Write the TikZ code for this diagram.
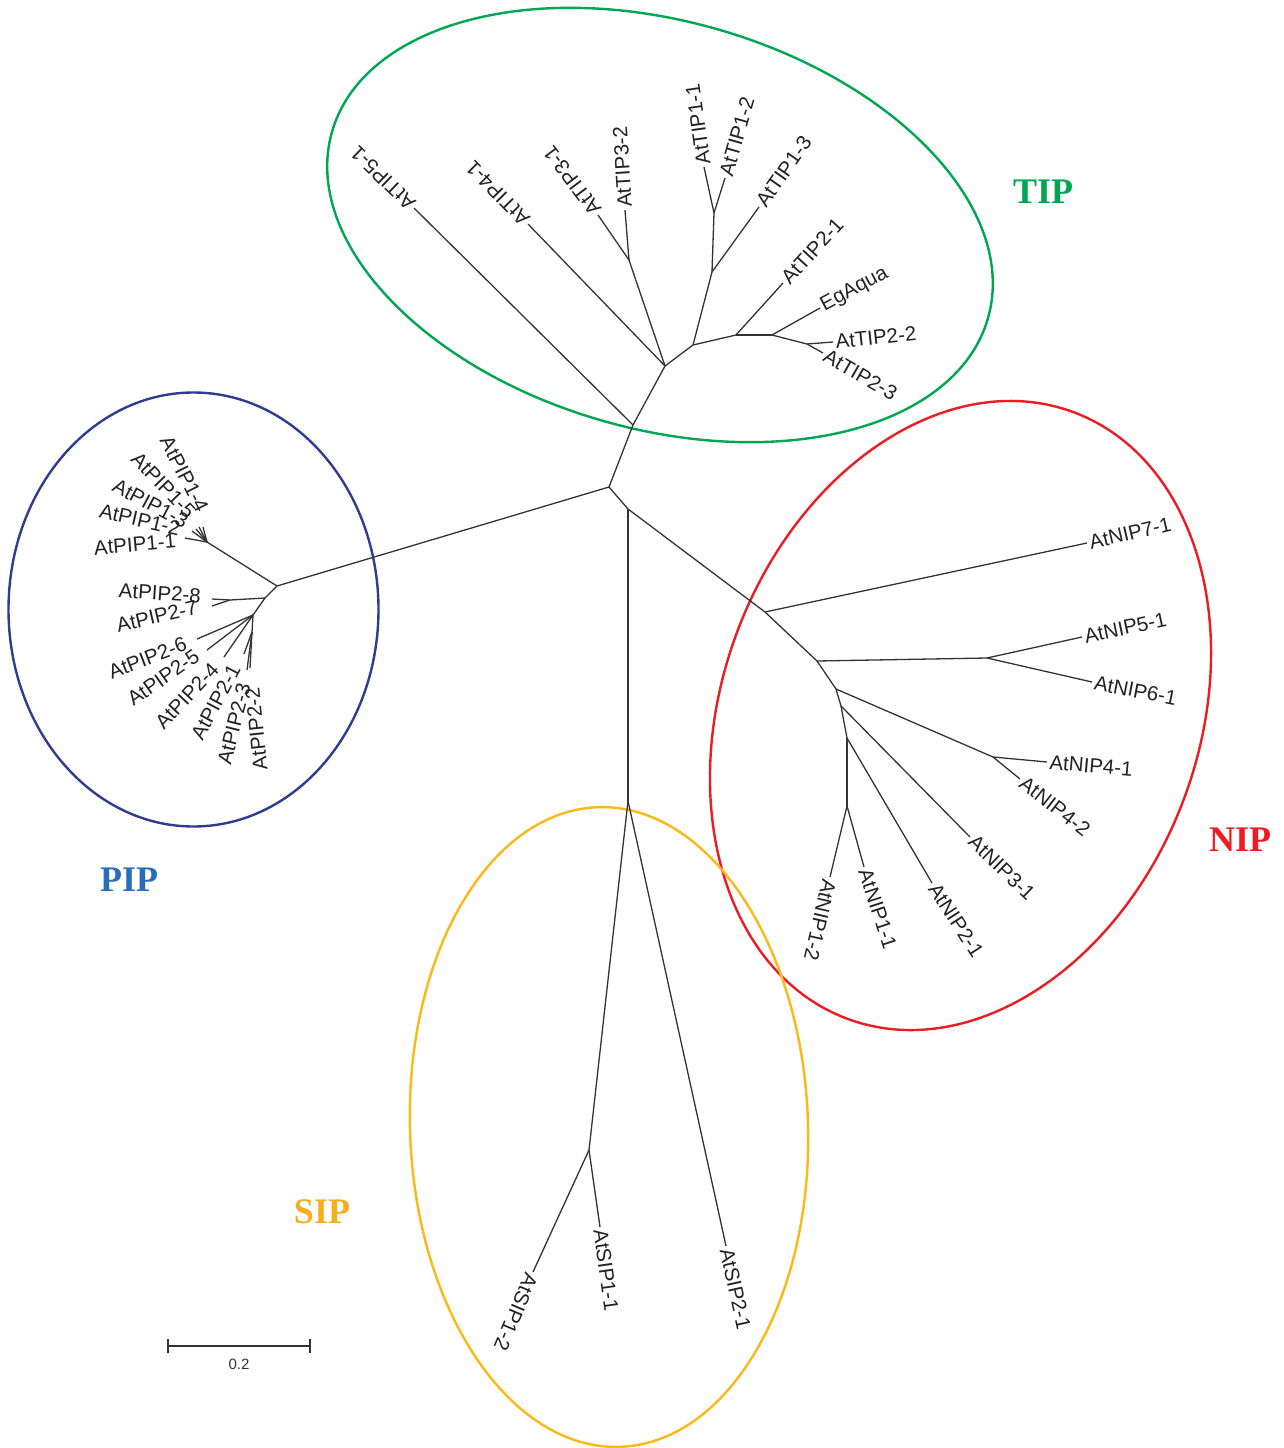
\documentclass[tikz,border=0pt]{standalone}
\usepackage{fontspec}
\setmainfont{Liberation Sans}
\newfontfamily\labfont{Liberation Sans}
\newfontfamily\grpfont{Liberation Serif}
\definecolor{treec}{HTML}{333333}
\definecolor{labc}{HTML}{222222}
\definecolor{tipgreen}{HTML}{00A651}
\definecolor{pipblue}{HTML}{2E3D8F}
\definecolor{piptext}{HTML}{2A6EBB}
\definecolor{nipred}{HTML}{ED1C24}
\definecolor{siporange}{HTML}{FBB817}
\definecolor{siptext}{HTML}{F7AE1E}
\tikzset{
  br/.style={draw=treec, line width=1.3pt},
  grpell/.style={line width=2.4pt},
  lab/.style={font=\labfont\fontsize{20.5}{24}\selectfont, text=labc, inner sep=2.5pt, anchor=west},
  flab/.style={font=\labfont\fontsize{20.5}{24}\selectfont, text=labc, inner sep=0pt, anchor=east},
  grplab/.style={font=\grpfont\bfseries\fontsize{36}{40}\selectfont, inner sep=0pt}
}
\begin{document}
\begin{tikzpicture}[x=1pt,y=-1pt]
\useasboundingbox (0,0) rectangle (1284,1448);
\fill[white] (0,0) rectangle (1284,1448);

% ---------- group ellipses ----------
\draw[grpell, tipgreen, rotate around={-15.8:(660,225)}] (660,225) ellipse [x radius=341pt, y radius=204pt];
\draw[grpell, pipblue] (193.5,609.5) ellipse [x radius=185pt, y radius=217pt];
\draw[grpell, nipred, rotate around={-20.5:(960.5,715.5)}] (960.5,715.5) ellipse [x radius=238.5pt, y radius=323.7pt];
\draw[grpell, siporange, rotate around={2:(609,1127)}] (609,1127) ellipse [x radius=199pt, y radius=320pt];

% ---------- internal nodes ----------
\coordinate (R) at (609,487);
% TIP
\coordinate (T0) at (633,425);
\coordinate (T1) at (665,366);
\coordinate (T3n) at (629,260);
\coordinate (T2) at (693,345);
\coordinate (T1n) at (712,272);
\coordinate (T11n) at (714,213);
\coordinate (T3) at (736,335);
\coordinate (T4) at (772,335);
\coordinate (T5) at (807,344);
% PIP
\coordinate (P0) at (277,586);
\coordinate (P1n) at (207,542);
\coordinate (P2a) at (265,598);
\coordinate (P2b) at (230,600);
\coordinate (P2c) at (253,615);
\coordinate (P2e) at (252,632);
% NIP / SIP
\coordinate (N0) at (628,509);
\coordinate (N1) at (765,612);
\coordinate (N2) at (817,661);
\coordinate (N56) at (987,658);
\coordinate (N3) at (836,689);
\coordinate (N4b) at (993,757);
\coordinate (N4) at (841,706);
\coordinate (N5) at (847,738);
\coordinate (N6) at (847,806);
\coordinate (S0) at (628,801);
\coordinate (S1) at (589,1150);

% ---------- tips ----------
\coordinate (tT51) at (414,208);
\coordinate (tT41) at (528,224);
\coordinate (tT31) at (598,215);
\coordinate (tT32) at (625,210);
\coordinate (tT11) at (704,167);
\coordinate (tT12) at (725,178);
\coordinate (tT13) at (759,207);
\coordinate (tT21) at (783,283);
\coordinate (tEg) at (820,308);
\coordinate (tT22) at (833,342);
\coordinate (tT23) at (823,353);

\coordinate (tP14) at (203,527);
\coordinate (tP15) at (199,527);
\coordinate (tP13) at (196,529);
\coordinate (tP12) at (192,531);
\coordinate (tP11) at (185,538);
\coordinate (tP28) at (212,599);
\coordinate (tP27) at (212,606);
\coordinate (tP26) at (197,639);
\coordinate (tP25) at (207,650);
\coordinate (tP24) at (224,657);
\coordinate (tP21) at (244,654);
\coordinate (tP23) at (247,670);
\coordinate (tP22) at (250,668);

\coordinate (tN71) at (1087,543);
\coordinate (tN51) at (1082,637);
\coordinate (tN61) at (1092,682);
\coordinate (tN41) at (1047,762);
\coordinate (tN42) at (1020,779);
\coordinate (tN31) at (970,837);
\coordinate (tN21) at (932,883);
\coordinate (tN11) at (864,867);
\coordinate (tN12) at (830,877);

\coordinate (tS12) at (533,1272);
\coordinate (tS11) at (600,1227);
\coordinate (tS21) at (726,1246);

% ---------- branches ----------
% TIP clade
\draw[br] (R) -- (T0);
\draw[br] (T0) -- (tT51);
\draw[br] (T0) -- (T1);
\draw[br] (T1) -- (tT41);
\draw[br] (T1) -- (T3n);
\draw[br] (T3n) -- (tT31);
\draw[br] (T3n) -- (tT32);
\draw[br] (T1) -- (T2);
\draw[br] (T2) -- (T1n);
\draw[br] (T1n) -- (T11n);
\draw[br] (T11n) -- (tT11);
\draw[br] (T11n) -- (tT12);
\draw[br] (T1n) -- (tT13);
\draw[br] (T2) -- (T3);
\draw[br] (T3) -- (tT21);
\draw[br] (T3) -- (T4);
\draw[br] (T4) -- (tEg);
\draw[br] (T4) -- (T5);
\draw[br] (T5) -- (tT22);
\draw[br] (T5) -- (tT23);
% PIP clade
\draw[br] (R) -- (P0);
\draw[br] (P0) -- (P1n);
\draw[br] (P1n) -- (tP11);
\draw[br] (P1n) -- (tP12);
\draw[br] (P1n) -- (tP13);
\draw[br] (P1n) -- (tP15);
\draw[br] (P1n) -- (tP14);
\draw[br] (P0) -- (P2a);
\draw[br] (P2a) -- (P2b);
\draw[br] (P2b) -- (tP28);
\draw[br] (P2b) -- (tP27);
\draw[br] (P2a) -- (P2c);
\draw[br] (P2c) -- (tP26);
\draw[br] (P2c) -- (tP25);
\draw[br] (P2c) -- (tP24);
\draw[br] (P2c) -- (P2e);
\draw[br] (P2e) -- (tP21);
\draw[br] (P2e) -- (tP23);
\draw[br] (P2e) -- (tP22);
% NIP clade
\draw[br] (R) -- (N0);
\draw[br] (N0) -- (N1);
\draw[br] (N1) -- (tN71);
\draw[br] (N1) -- (N2);
\draw[br] (N2) -- (N56);
\draw[br] (N56) -- (tN51);
\draw[br] (N56) -- (tN61);
\draw[br] (N2) -- (N3);
\draw[br] (N3) -- (N4b);
\draw[br] (N4b) -- (tN41);
\draw[br] (N4b) -- (tN42);
\draw[br] (N3) -- (N4);
\draw[br] (N4) -- (tN31);
\draw[br] (N4) -- (N5);
\draw[br] (N5) -- (tN21);
\draw[br] (N5) -- (N6);
\draw[br] (N6) -- (tN11);
\draw[br] (N6) -- (tN12);
% SIP clade
\draw[br] (N0) -- (S0);
\draw[br] (S0) -- (S1);
\draw[br] (S1) -- (tS12);
\draw[br] (S1) -- (tS11);
\draw[br] (S0) -- (tS21);

% ---------- leaf labels ----------
\node[lab, rotate=136] (lT51) at (tT51) {AtTIP5-1};
\node[lab, rotate=134.5] (lT41) at (tT41) {AtTIP4-1};
\node[lab, rotate=127] (lT31) at (tT31) {AtTIP3-1};
\node[lab, rotate=93.5] (lT32) at (tT32) {AtTIP3-2};
\node[lab, rotate=98] (lT11) at (tT11) {AtTIP1-1};
\node[lab, rotate=74] (lT12) at (tT12) {AtTIP1-2};
\node[lab, rotate=55] (lT13) at (tT13) {AtTIP1-3};
\node[lab, rotate=47.5] (lT21) at (tT21) {AtTIP2-1};
\node[lab, rotate=28] (lEg) at (tEg) {EgAqua};
\node[lab, rotate=6] (lT22) at (tT22) {AtTIP2-2};
\node[lab, rotate=-30] (lT23) at (tT23) {AtTIP2-3};

\node[flab, rotate=-63] (lP14) at (203,511) {AtPIP1-4};
\node[flab, rotate=-46] (lP15) at (192,515) {AtPIP1-5};
\node[flab, rotate=-28] (lP13) at (187,523) {AtPIP1-3};
\node[flab, rotate=-13] (lP12) at (180,529) {AtPIP1-2};
\node[flab, rotate=5] (lP11) at (176,541) {AtPIP1-1};
\node[flab, rotate=-4] (lP28) at (201,596) {AtPIP2-8};
\node[flab, rotate=13] (lP27) at (197,607) {AtPIP2-7};
\node[flab, rotate=21] (lP26) at (186,643) {AtPIP2-6};
\node[flab, rotate=35] (lP25) at (197,654) {AtPIP2-5};
\node[flab, rotate=47] (lP24) at (215,666) {AtPIP2-4};
\node[flab, rotate=62] (lP21) at (235,666) {AtPIP2-1};
\node[flab, rotate=76] (lP23) at (244,684) {AtPIP2-3};
\node[flab, rotate=96] (lP22) at (252,688) {AtPIP2-2};

\node[lab, rotate=13] (lN71) at (tN71) {AtNIP7-1};
\node[lab, rotate=12] (lN51) at (tN51) {AtNIP5-1};
\node[lab, rotate=-11] (lN61) at (tN61) {AtNIP6-1};
\node[lab, rotate=-5] (lN41) at (tN41) {AtNIP4-1};
\node[lab, rotate=-38] (lN42) at (tN42) {AtNIP4-2};
\node[lab, rotate=-44] (lN31) at (tN31) {AtNIP3-1};
\node[lab, rotate=-57] (lN21) at (tN21) {AtNIP2-1};
\node[lab, rotate=-72] (lN11) at (tN11) {AtNIP1-1};
\node[lab, rotate=-103] (lN12) at (tN12) {AtNIP1-2};

\node[lab, rotate=-113] (lS12) at (tS12) {AtSIP1-2};
\node[lab, rotate=-82] (lS11) at (tS11) {AtSIP1-1};
\node[lab, rotate=-77.5] (lS21) at (tS21) {AtSIP2-1};

% ---------- group labels ----------
\node[grplab, text=tipgreen] (gTIP) at (1043,192) {TIP};
\node[grplab, text=piptext] (gPIP) at (129,880) {PIP};
\node[grplab, text=nipred] (gNIP) at (1240,840) {NIP};
\node[grplab, text=siptext] (gSIP) at (322,1212) {SIP};

% ---------- scale bar ----------
\coordinate (sb1) at (168,1346);
\coordinate (sb2) at (310,1346);
\draw[draw=treec, line width=1.3pt] (sb1) -- (sb2);
\draw[draw=treec, line width=1.3pt] ([yshift=7pt]sb1) -- ([yshift=-7pt]sb1);
\draw[draw=treec, line width=1.3pt] ([yshift=7pt]sb2) -- ([yshift=-7pt]sb2);
\node[font=\labfont\fontsize{15}{18}\selectfont, text=treec, inner sep=0pt] (sbl) at (239,1364) {0.2};
\end{tikzpicture}
\end{document}
